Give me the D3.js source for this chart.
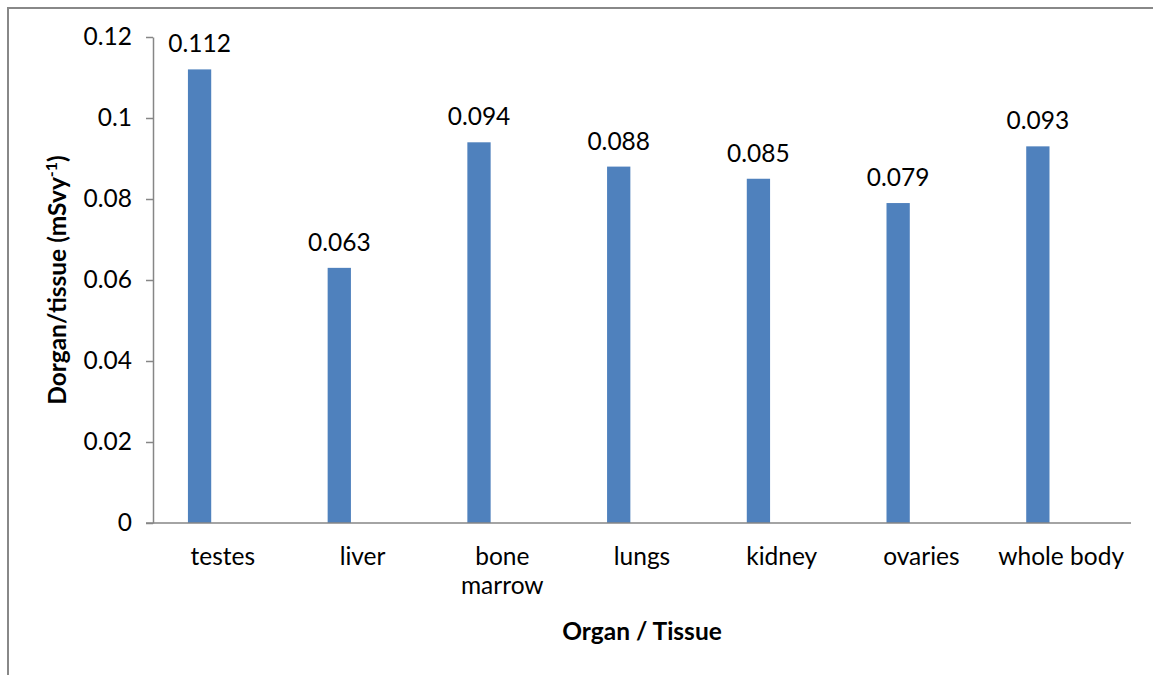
<!DOCTYPE html>
<html>
<head>
<meta charset="utf-8">
<script src="https://cdn.jsdelivr.net/npm/d3@7"></script>
<style>
  html, body { margin: 0; padding: 0; background: #fff; }
  svg { display: block; }
  text { font-family: Lato, "Open Sans", sans-serif; fill: #000; }
</style>
</head>
<body>
<svg id="chart" width="1153" height="675"></svg>
<script>
const categories = ["testes", "liver", "bone marrow", "lungs", "kidney", "ovaries", "whole body"];
const values = [0.112, 0.063, 0.094, 0.088, 0.085, 0.079, 0.093];
const valueLabels = ["0.112", "0.063", "0.094", "0.088", "0.085", "0.079", "0.093"];
const yTicks = [0, 0.02, 0.04, 0.06, 0.08, 0.1, 0.12];
const yTickLabels = ["0", "0.02", "0.04", "0.06", "0.08", "0.1", "0.12"];

const svg = d3.select("#chart");
const W = 1153, H = 675;
const plot = { left: 153, right: 1131, top: 37, bottom: 523 };
const axisColor = "#868686";
const barColor = "#4F81BD";
const fs = 24.5;

// outer frame (left & top edges visible)
svg.append("line").attr("x1", 8).attr("x2", 8).attr("y1", 7).attr("y2", H)
  .attr("stroke", "#888").attr("stroke-width", 2);
svg.append("line").attr("x1", 7).attr("x2", W).attr("y1", 8).attr("y2", 8)
  .attr("stroke", "#888").attr("stroke-width", 2);

const x = d3.scaleBand().domain(categories).range([plot.left, plot.right]).padding(0);
const y = d3.scaleLinear().domain([0, 0.12]).range([plot.bottom, plot.top]);

// y axis
const yAxis = d3.axisLeft(y).tickValues(yTicks)
  .tickFormat((d, i) => yTickLabels[i]).tickSizeInner(7).tickSizeOuter(0).tickPadding(14);
const gy = svg.append("g").attr("transform", `translate(${plot.left},0)`).call(yAxis);
gy.select(".domain").attr("stroke", axisColor).attr("stroke-width", 1.5);
gy.selectAll(".tick line").attr("stroke", axisColor).attr("stroke-width", 1.5);
gy.selectAll(".tick text").attr("font-size", fs).attr("font-family", "Lato, sans-serif").attr("fill", "#000");

// bars
const barW = x.bandwidth() / 6;
const barX = d => x(d) + x.bandwidth() / 2 - barW * 1.5;
svg.append("g").selectAll("rect").data(categories).join("rect")
  .attr("x", d => barX(d))
  .attr("y", (d, i) => y(values[i]))
  .attr("width", barW)
  .attr("height", (d, i) => y(0) - y(values[i]))
  .attr("fill", barColor);

// value labels
svg.append("g").selectAll("text").data(categories).join("text")
  .attr("x", d => barX(d) + barW / 2)
  .attr("y", (d, i) => y(values[i]) - 17)
  .attr("text-anchor", "middle")
  .attr("font-size", fs)
  .text((d, i) => valueLabels[i]);

// x axis line
svg.append("line").attr("x1", plot.left - 7).attr("x2", plot.right)
  .attr("y1", plot.bottom).attr("y2", plot.bottom)
  .attr("stroke", axisColor).attr("stroke-width", 1.5);

// category labels (wrapped when needed)
const catG = svg.append("g");
categories.forEach(c => {
  const cx = x(c) + x.bandwidth() / 2;
  const t = catG.append("text").attr("text-anchor", "middle").attr("font-size", fs);
  const lines = c === "bone marrow" ? c.split(" ") : [c];
  lines.forEach((ln, i) => {
    t.append("tspan").attr("x", cx).attr("y", 565 + i * 29).text(ln);
  });
});

// axis titles
svg.append("text")
  .attr("x", (plot.left + plot.right) / 2).attr("y", 640)
  .attr("text-anchor", "middle").attr("font-size", fs).attr("font-weight", "bold")
  .text("Organ / Tissue");

const yt = svg.append("text")
  .attr("transform", `translate(66,${(plot.top + plot.bottom) / 2}) rotate(-90)`)
  .attr("text-anchor", "middle").attr("font-size", fs).attr("font-weight", "bold");
yt.append("tspan").text("Dorgan/tissue (mSvy");
yt.append("tspan").attr("font-size", 16).attr("dy", -9).text("-1");
yt.append("tspan").attr("dy", 9).text(")");
</script>
</body>
</html>
